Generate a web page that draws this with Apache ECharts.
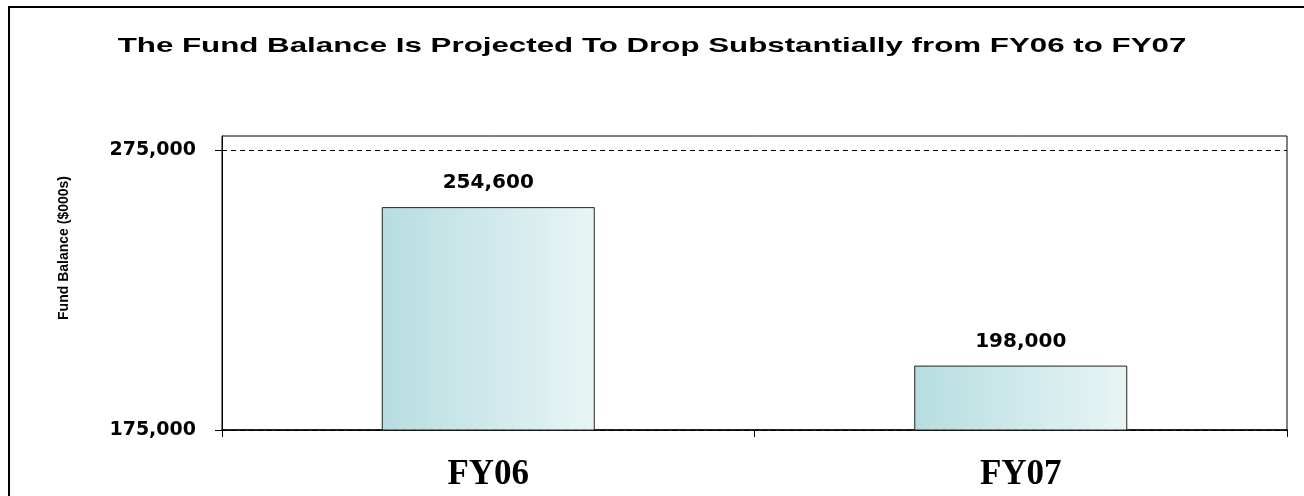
<!DOCTYPE html>
<html>
<head>
<meta charset="utf-8">
<title>Fund Balance</title>
<script src="https://cdn.jsdelivr.net/npm/echarts@6/dist/echarts.min.js"></script>
<style>
  html, body { margin: 0; padding: 0; background: #fff; }
  #main { width: 1304px; height: 496px; }
</style>
</head>
<body>
<div id="main"></div>
<script>
// data
var chartTitle = 'The Fund Balance Is Projected To Drop Substantially from FY06 to FY07';
var years = ['FY06', 'FY07'];
var fundBalance = [254600, 198000];
var yTicks = [175000, 275000];

window.onload = function () {
  var myChart = echarts.init(document.getElementById('main'));

  var option = {
    backgroundColor: '#fff',
    // title, outer frame and rotated axis name (title is stretched wide like the original)
    graphic: [
      {
        type: 'rect',
        shape: { x: 9, y: 7, width: 1310, height: 510 },
        style: { fill: 'none', stroke: '#000', lineWidth: 2 },
        silent: true
      },
      {
        type: 'text',
        x: 652,
        y: 46,
        scaleX: 1.49,
        style: {
          text: chartTitle,
          fontFamily: 'Liberation Sans, Arial',
          fontWeight: 'bold',
          fontSize: 21,
          fill: '#000',
          align: 'center',
          verticalAlign: 'middle'
        }
      },
      {
        type: 'text',
        x: 64,
        y: 248,
        rotation: Math.PI / 2,
        style: {
          text: 'Fund Balance ($000s)',
          fontFamily: 'Liberation Sans, Arial',
          fontWeight: 'bold',
          fontSize: 14,
          fill: '#000',
          align: 'center',
          verticalAlign: 'middle'
        }
      }
    ],
    grid: {
      left: 222,
      right: 17,
      top: 136,
      bottom: 66,
      show: true,
      borderColor: '#000',
      borderWidth: 1
    },
    xAxis: {
      type: 'category',
      data: years,
      boundaryGap: true,
      axisLine: { lineStyle: { color: '#000', width: 1.5 } },
      axisTick: { show: true, length: 7, lineStyle: { color: '#000' } },
      axisLabel: {
        margin: 27,
        fontFamily: 'Liberation Serif, Times New Roman',
        fontWeight: 'bold',
        fontSize: 35,
        color: '#000'
      }
    },
    yAxis: {
      type: 'value',
      min: 175000,
      max: 280000,
      interval: 100000,
      axisLine: { show: true, lineStyle: { color: '#000', width: 1 } },
      axisTick: {
        show: true,
        length: 7,
        customValues: yTicks,
        lineStyle: { color: '#000' }
      },
      axisLabel: {
        customValues: yTicks,
        margin: 26,
        fontFamily: 'DejaVu Sans',
        fontWeight: 'bold',
        fontSize: 19,
        color: '#000',
        formatter: function (v) {
          return v.toLocaleString('en-US');
        }
      },
      splitLine: {
        show: true,
        lineStyle: { color: '#000', type: [5, 4], width: 1 }
      }
    },
    series: [{
      name: 'Fund Balance',
      type: 'bar',
      data: fundBalance,
      barWidth: '40%',
      itemStyle: {
        color: new echarts.graphic.LinearGradient(0, 0, 1, 0, [
          { offset: 0, color: '#b7dde0' },
          { offset: 1, color: '#e8f5f5' }
        ]),
        borderColor: '#222',
        borderWidth: 1
      },
      label: {
        show: true,
        position: 'top',
        distance: 14,
        fontFamily: 'DejaVu Sans',
        fontWeight: 'bold',
        fontSize: 20,
        color: '#000',
        formatter: function (p) {
          return p.value.toLocaleString('en-US');
        }
      }
    }]
  };

  myChart.setOption(option);
};
</script>
</body>
</html>
